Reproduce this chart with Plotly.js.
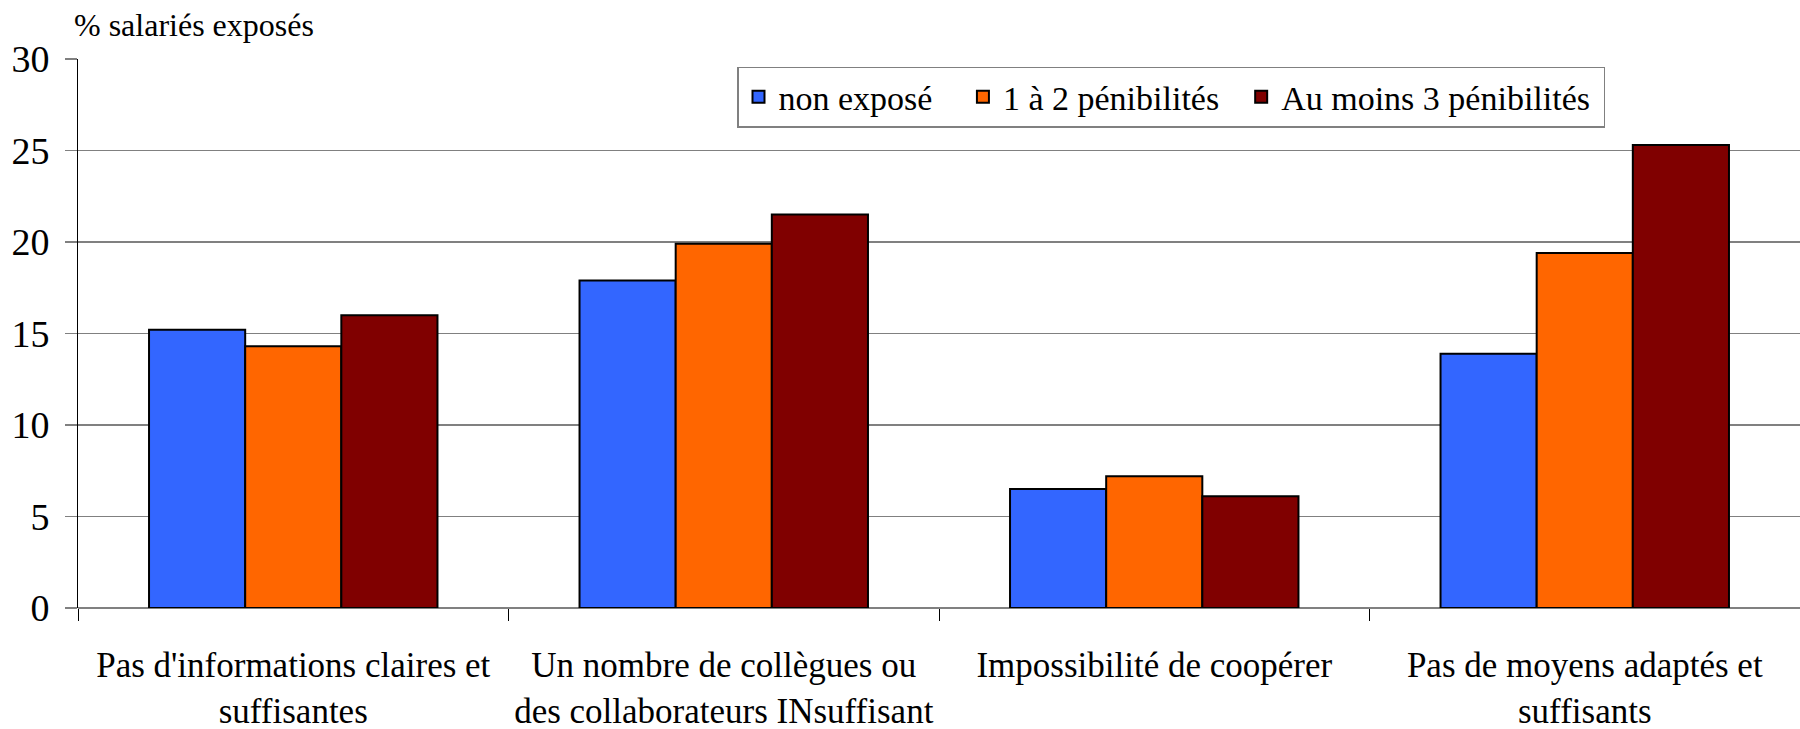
<!DOCTYPE html>
<html>
<head>
<meta charset="utf-8">
<script src="https://cdn.plot.ly/plotly-3.0.1.min.js"></script>
<style>
html,body{margin:0;padding:0;background:#fff;}
#chart{width:1800px;height:729px;}
</style>
</head>
<body>
<div id="chart"></div>
<script>
const categories = [
  "Pas d'informations claires et<br>suffisantes",
  "Un nombre de collègues ou<br>des collaborateurs INsuffisant",
  "Impossibilité de coopérer",
  "Pas de moyens adaptés et<br>suffisants"
];
const seriesNames = ["non exposé", "1 à 2 pénibilités", "Au moins 3 pénibilités"];
const nonExpose = [15.2, 17.9, 6.5, 13.9];
const unADeux = [14.3, 19.9, 7.2, 19.4];
const auMoinsTrois = [16.0, 21.5, 6.1, 25.3];
const yTicks = [0, 5, 10, 15, 20, 25, 30];
const colors = ["#3366FF", "#FF6600", "#800000"];

const NB = '\u00a0';
const legendPad = [NB + NB + NB, NB + NB, NB];
const values = [nonExpose, unADeux, auMoinsTrois];
const traces = values.map((v, i) => ({
  type: 'bar',
  name: seriesNames[i] + legendPad[i],
  x: categories,
  y: v,
  marker: {color: colors[i], line: {color: '#000000', width: 2}},
  hoverinfo: 'none'
}));

const SERIF = 'Liberation Serif';
const layout = {
  width: 1800,
  height: 729,
  margin: {l: 78, r: 0, t: 59, b: 121, pad: 0},
  paper_bgcolor: '#ffffff',
  plot_bgcolor: '#ffffff',
  barmode: 'group',
  bargap: 0.33,
  bargroupgap: 0,
  showlegend: true,
  legend: {
    orientation: 'h',
    x: (737 - 78) / 1722,
    y: 0.986,
    xanchor: 'left',
    yanchor: 'top',
    bgcolor: '#ffffff',
    bordercolor: '#808080',
    borderwidth: 1.5,
    font: {family: SERIF, size: 34, color: '#000000'},
    traceorder: 'normal'
  },
  xaxis: {
    type: 'category',
    showgrid: false,
    showline: false,
    zeroline: false,
    ticks: 'outside',
    tickson: 'boundaries',
    ticklen: 12,
    tickcolor: '#000000',
    tickwidth: 1,
    tickfont: {family: SERIF, size: 35, color: '#000000'},
    ticklabelstandoff: 33
  },
  yaxis: {
    range: [0, 30],
    tickvals: yTicks,
    ticktext: yTicks.map(String),
    showgrid: true,
    gridcolor: '#808080',
    gridwidth: 1.5,
    zeroline: true,
    zerolinecolor: '#808080',
    zerolinewidth: 2,
    showline: true,
    linecolor: '#000000',
    linewidth: 1,
    ticks: 'outside',
    ticklen: 12,
    tickcolor: '#808080',
    tickwidth: 1.5,
    tickfont: {family: SERIF, size: 38, color: '#000000'},
    ticklabelstandoff: 8
  },
  annotations: [{
    text: '% salariés exposés',
    xref: 'paper', yref: 'paper',
    x: (72 - 78) / 1722, y: (608 - 25) / 549,
    xanchor: 'left', yanchor: 'middle',
    showarrow: false,
    font: {family: SERIF, size: 32, color: '#000000'}
  }]
};

Plotly.newPlot('chart', traces, layout, {displayModeBar: false, staticPlot: true});
</script>
</body>
</html>
